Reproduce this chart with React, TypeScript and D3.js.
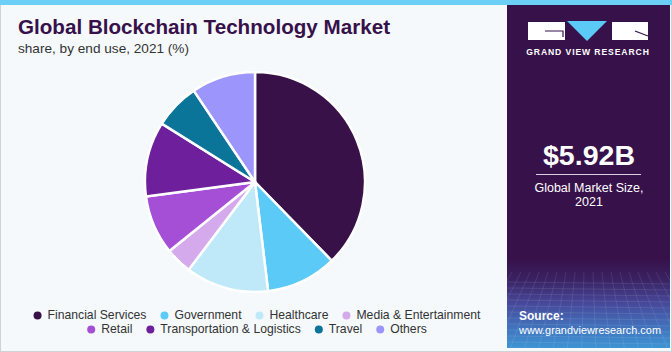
import * as React from "react";
import * as d3 from "d3";

// chart data
const segments = [
  "Financial Services",
  "Government",
  "Healthcare",
  "Media & Entertainment",
  "Retail",
  "Transportation & Logistics",
  "Travel",
  "Others",
];
const shares = [37.7, 10.4, 12.2, 3.9, 8.7, 11.0, 6.7, 9.4];
const colors = [
  "#371148",
  "#5ccaf6",
  "#bfe9f9",
  "#d4aaec",
  "#a44fd6",
  "#6d1f9c",
  "#0a7499",
  "#9b95fc",
];
const legendRows = [segments.slice(0, 4), segments.slice(4)];

const title = "Global Blockchain Technology Market";
const subtitle = "share, by end use, 2021 (%)";
const marketSize = "$5.92B";
const marketLabel = ["Global Market Size,", "2021"];

const W = 672;
const H = 352;
const panelX = 507;
const FONT = "'Liberation Sans', Arial, sans-serif";

function textWidth(s: string, font: string) {
  const c = document.createElement("canvas").getContext("2d");
  if (!c) return s.length * 6.5;
  c.font = font;
  return c.measureText(s).width;
}

const App: React.FC = () => {
  const cx = 255;
  const cy = 182;
  const radius = 110;

  const pie = d3
    .pie<number>()
    .sort(null)
    .value((d) => d);
  const arcs = pie(shares);
  const arc = d3.arc<d3.PieArcDatum<number>>().innerRadius(0).outerRadius(radius);

  // legend layout: centered rows, widths from text
  const legendFont = `12.2px ${FONT}`;
  const legendY = d3.scalePoint<number>().domain([0, 1]).range([316, 330]);
  const legendItems: { name: string; x: number; y: number }[] = [];
  legendRows.forEach((row, ri) => {
    const widths = row.map((n) => 10 + textWidth(n, legendFont));
    const gap = 18;
    const total = d3.sum(widths) + gap * (row.length - 1);
    let x = cx - total / 2 + 4;
    row.forEach((n, i) => {
      legendItems.push({ name: n, x, y: legendY(ri) as number });
      x += widths[i] + gap;
    });
  });

  // faint grid in bottom of right panel
  const gridX = d3.range(panelX - 40, W + 40, 9);
  const gridY = d3.range(282, 350, 6);

  return (
    <svg
      width={W}
      height={H}
      style={{ position: "absolute", left: 0, top: 0, display: "block" }}
      fontFamily={FONT}
    >
      <defs>
        <linearGradient id="panelGrad" x1="0" y1="0" x2="0" y2="1">
          <stop offset="0" stopColor="#37114a" />
          <stop offset="0.74" stopColor="#37114a" />
          <stop offset="0.8" stopColor="#3a2262" />
          <stop offset="0.87" stopColor="#47489a" />
          <stop offset="0.94" stopColor="#4173bd" />
          <stop offset="1" stopColor="#3d95d4" />
        </linearGradient>
        <clipPath id="panelClip">
          <rect x={panelX} y={5} width={W - 2 - panelX} height={343} />
        </clipPath>
      </defs>
      <rect x={0} y={0} width={W} height={H} fill="#f5f9fc" />
      <rect x={0.5} y={4} width={W - 1} height={H - 4.5} fill="none" stroke="#cfd3d6" />
      <rect x={0} y={0} width={W} height={5} fill="#6ccff6" />

      {/* right panel */}
      <rect x={panelX} y={5} width={W - 2 - panelX} height={343} fill="url(#panelGrad)" />
      <g clipPath="url(#panelClip)" stroke="#ffffff" strokeOpacity={0.12} strokeWidth={0.8}>
        {gridX.map((x, i) => (
          <line key={"gx" + i} x1={x} y1={272} x2={x + (x - 588) * 0.6} y2={350} />
        ))}
        {gridY.map((y, i) => (
          <line key={"gy" + i} x1={panelX} y1={y} x2={W} y2={y + 2} />
        ))}
      </g>

      {/* logo */}
      <g>
        <rect x={528} y={22} width={37} height={18} fill="#ffffff" />
        <path d="M545,31 L563,31 L563,37" fill="none" stroke="#37114a" strokeWidth={1.2} />
        <path d="M567,21 L607,21 L587,41 Z" fill="#5ccaf6" />
        <rect x={612} y={22} width={36} height={18} fill="#ffffff" />
        <path d="M635,31 L648,36" fill="none" stroke="#37114a" strokeWidth={1.2} />
        <text
          x={588}
          y={55}
          textAnchor="middle"
          fill="#ffffff"
          fontSize={8.6}
          fontWeight="bold"
          letterSpacing={0.9}
        >
          GRAND VIEW RESEARCH
        </text>
      </g>

      <text
        x={589}
        y={165}
        textAnchor="middle"
        fill="#ffffff"
        fontSize={27}
        fontWeight="bold"
        textLength={92}
        lengthAdjust="spacingAndGlyphs"
      >
        {marketSize}
      </text>
      <line x1={536} x2={641} y1={174.5} y2={174.5} stroke="#d9cfe0" strokeWidth={1} />
      {marketLabel.map((t, i) => (
        <text key={t} x={589} y={192 + i * 14} textAnchor="middle" fill="#ffffff" fontSize={12.5}>
          {t}
        </text>
      ))}
      <text x={519} y={320} fill="#ffffff" fontSize={12} fontWeight="bold">
        Source:
      </text>
      <text
        x={519}
        y={334}
        fill="#ffffff"
        fontSize={11.6}
        textLength={142}
        lengthAdjust="spacingAndGlyphs"
      >
        www.grandviewresearch.com
      </text>

      {/* title */}
      <text
        x={18}
        y={34}
        fill="#37114a"
        fontSize={20}
        fontWeight="900"
        textLength={372}
        lengthAdjust="spacingAndGlyphs"
      >
        {title}
      </text>
      <text
        x={18}
        y={53}
        fill="#333333"
        fontSize={13}
        textLength={171}
        lengthAdjust="spacingAndGlyphs"
      >
        {subtitle}
      </text>

      {/* pie */}
      <g transform={`translate(${cx},${cy})`}>
        {arcs.map((a, i) => (
          <path
            key={segments[i]}
            d={arc(a) || undefined}
            fill={colors[i]}
            stroke="#ffffff"
            strokeWidth={2.5}
            strokeLinejoin="round"
          />
        ))}
      </g>

      {/* legend */}
      <g fontSize={12.2} fill="#333333">
        {legendItems.map((it) => (
          <g key={it.name}>
            <circle cx={it.x} cy={it.y - 0.5} r={4} fill={colors[segments.indexOf(it.name)]} />
            <text x={it.x + 10} y={it.y} dominantBaseline="middle">
              {it.name}
            </text>
          </g>
        ))}
      </g>
    </svg>
  );
};

export default App;
